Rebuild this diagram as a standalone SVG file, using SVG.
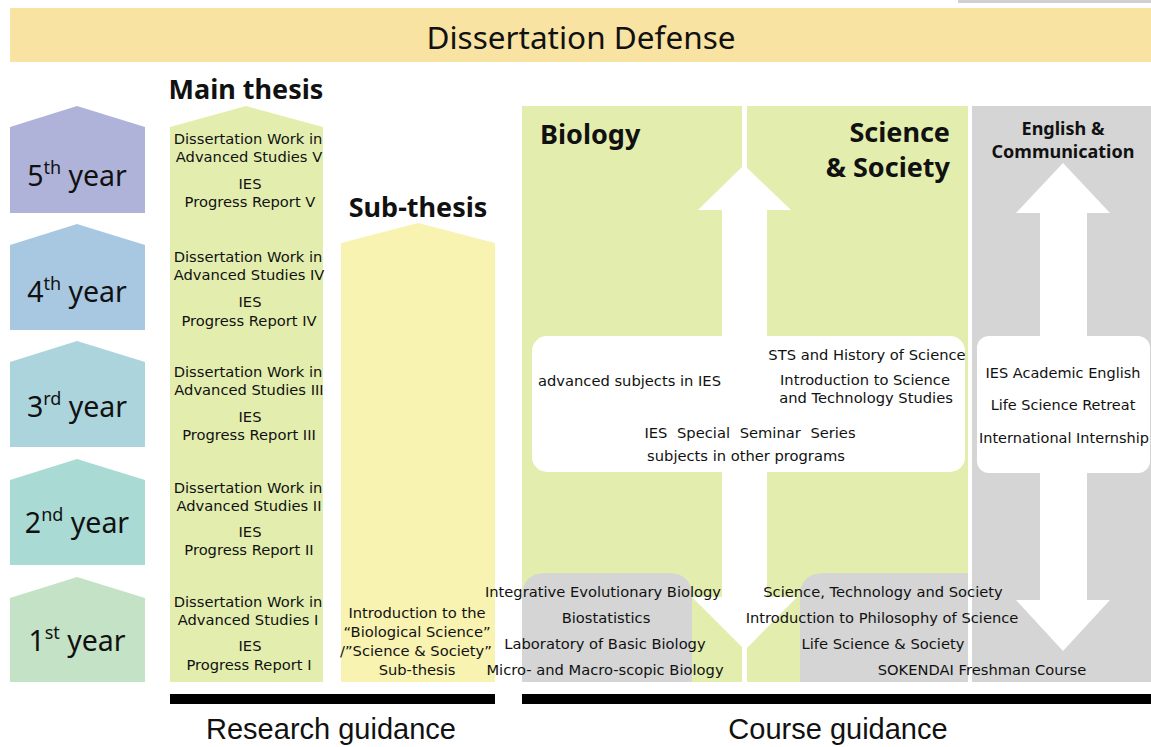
<svg xmlns="http://www.w3.org/2000/svg" width="1151" height="747" viewBox="0 0 1151 747">
<style>
text{font-family:"Noto Sans","Liberation Sans",sans-serif;fill:#111;dominant-baseline:central}
.t,.b,.e,.tl{font-family:"DejaVu Sans","Liberation Sans",sans-serif;font-size:14.7px}
.t,.b,.e{text-anchor:middle}
.e{font-size:14.5px}
.h{font-size:27px;font-weight:bold;text-anchor:middle}
.y{font-size:28.5px;text-anchor:middle}
.g{font-size:29px;text-anchor:middle;font-family:"Liberation Sans",sans-serif}
.green{fill:#e3eeae}
.gray{fill:#d5d5d5}
.box{fill:#fff}
</style>
<rect x="0" y="0" width="1151" height="747" fill="#fff"/>
<rect x="958" y="0" width="193" height="3" fill="#d0d0d0"/>
<g id="defense">
<rect x="10" y="8" width="1141" height="54" fill="#f8e3a3"/>
<text x="581" y="36" style="font-size:31.5px;text-anchor:middle">Dissertation Defense</text>
</g>
<g id="year5">
<polygon points="10,127 77,106 145,127 145,213 10,213" fill="#afb3d9"/>
<text class="y" x="77" y="175">5<tspan dy="-8" font-size="18">th</tspan><tspan dy="8"> year</tspan></text>
</g>
<g id="year4">
<polygon points="10,245 77,224 145,245 145,330 10,330" fill="#a8c8e2"/>
<text class="y" x="77" y="291">4<tspan dy="-8" font-size="18">th</tspan><tspan dy="8"> year</tspan></text>
</g>
<g id="year3">
<polygon points="10,362 77,341 145,362 145,447 10,447" fill="#abd4dd"/>
<text class="y" x="77" y="406">3<tspan dy="-8" font-size="18">rd</tspan><tspan dy="8"> year</tspan></text>
</g>
<g id="year2">
<polygon points="10,480 77,459 145,480 145,565 10,565" fill="#a9dbd4"/>
<text class="y" x="77" y="522">2<tspan dy="-8" font-size="18">nd</tspan><tspan dy="8"> year</tspan></text>
</g>
<g id="year1">
<polygon points="10,598 77,577 145,598 145,682 10,682" fill="#c4e2c6"/>
<text class="y" x="77" y="640">1<tspan dy="-8" font-size="18">st</tspan><tspan dy="8"> year</tspan></text>
</g>
<g id="main-thesis">
<text class="h" x="246" y="88">Main thesis</text>
<polygon class="green" points="170,127 246,106 323,127 323,682 170,682"/>
<text class="t" x="248" y="138">Dissertation Work in</text>
<text class="t" x="249" y="156">Advanced Studies V</text>
<text class="t" x="250" y="183">IES</text>
<text class="t" x="250" y="201">Progress Report V</text>
<text class="t" x="248" y="256">Dissertation Work in</text>
<text class="t" x="249" y="274">Advanced Studies IV</text>
<text class="t" x="250" y="301">IES</text>
<text class="t" x="249" y="320">Progress Report IV</text>
<text class="t" x="248" y="371">Dissertation Work in</text>
<text class="t" x="249" y="389">Advanced Studies III</text>
<text class="t" x="250" y="416">IES</text>
<text class="t" x="249" y="434">Progress Report III</text>
<text class="t" x="248" y="487">Dissertation Work in</text>
<text class="t" x="249" y="505">Advanced Studies II</text>
<text class="t" x="250" y="531">IES</text>
<text class="t" x="249" y="549">Progress Report II</text>
<text class="t" x="248" y="601">Dissertation Work in</text>
<text class="t" x="248" y="619">Advanced Studies I</text>
<text class="t" x="250" y="645">IES</text>
<text class="t" x="249" y="664">Progress Report I</text>
</g>
<g id="sub-thesis">
<text class="h" x="418" y="206">Sub-thesis</text>
<polygon points="341,243 418,223 495,243 495,682 341,682" fill="#f8f3b1"/>
<text class="t" x="417" y="612">Introduction to the</text>
<text class="t" x="417" y="631">“Biological Science”</text>
<text class="t" x="416" y="650">/”Science &amp; Society”</text>
<text class="t" x="417" y="669">Sub-thesis</text>
</g>
<g id="biology">
<rect class="green" x="522" y="106" width="220" height="576"/>
<path class="gray" d="M522,682 V597 Q522,573 546,573 H668 Q692,573 692,597 V682 Z"/>
<text x="540" y="133" style="font-size:27px;font-weight:bold">Biology</text>
</g>
<g id="science-society">
<rect class="green" x="747" y="106" width="221" height="576"/>
<path class="gray" d="M800,682 V597 Q800,573 824,573 H968 V682 Z"/>
<text x="950" y="131" style="font-size:27px;font-weight:bold;text-anchor:end">Science</text>
<text x="950" y="166" style="font-size:27px;font-weight:bold;text-anchor:end">&amp; Society</text>
</g>
<g id="english">
<rect class="gray" x="972" y="106" width="179" height="576"/>
<text x="1063" y="128" style="font-size:18px;font-weight:bold;text-anchor:middle">English &amp;</text>
<text x="1063" y="151" style="font-size:18px;font-weight:bold;text-anchor:middle">Communication</text>
</g>
<g id="connectors">
<polygon class="box" points="744,165 791,210 767,210 767,597 797,597 745,650 692,597 722,597 722,210 698,210"/>
<polygon class="box" points="1063,163 1110,213 1087,213 1087,600 1110,600 1063,651 1016,600 1040,600 1040,213 1016,213"/>
</g>
<g id="advanced-box">
<rect class="box" x="532" y="336" width="433" height="136" rx="15"/>
<text class="tl" x="538" y="380">advanced subjects in IES</text>
<text class="b" x="867" y="354">STS and History of Science</text>
<text class="b" x="865" y="379">Introduction to Science</text>
<text class="b" x="866" y="397">and Technology Studies</text>
<text class="b" x="750" y="432" style="word-spacing:5px">IES Special Seminar Series</text>
<text class="b" x="746" y="455">subjects in other programs</text>
</g>
<g id="english-box">
<rect class="box" x="977" y="336" width="173" height="137" rx="12"/>
<text class="e" x="1063" y="373">IES Academic English</text>
<text class="e" x="1063" y="405">Life Science Retreat</text>
<text class="e" x="1064" y="438">International Internship</text>
</g>
<g id="biology-courses">
<text class="b" x="603" y="591">Integrative Evolutionary Biology</text>
<text class="b" x="606" y="617">Biostatistics</text>
<text class="b" x="605" y="643">Laboratory of Basic Biology</text>
<text class="b" x="605" y="669">Micro- and Macro-scopic Biology</text>
</g>
<g id="society-courses">
<text class="b" x="883" y="591">Science, Technology and Society</text>
<text class="b" x="882" y="617">Introduction to Philosophy of Science</text>
<text class="b" x="883" y="643">Life Science &amp; Society</text>
<text class="b" x="982" y="669">SOKENDAI Freshman Course</text>
</g>
<g id="research-guidance">
<rect x="170" y="694" width="325" height="10" fill="#000"/>
<text class="g" x="331" y="729">Research guidance</text>
</g>
<g id="course-guidance">
<rect x="522" y="694" width="629" height="10" fill="#000"/>
<text class="g" x="838" y="729">Course guidance</text>
</g>
</svg>
